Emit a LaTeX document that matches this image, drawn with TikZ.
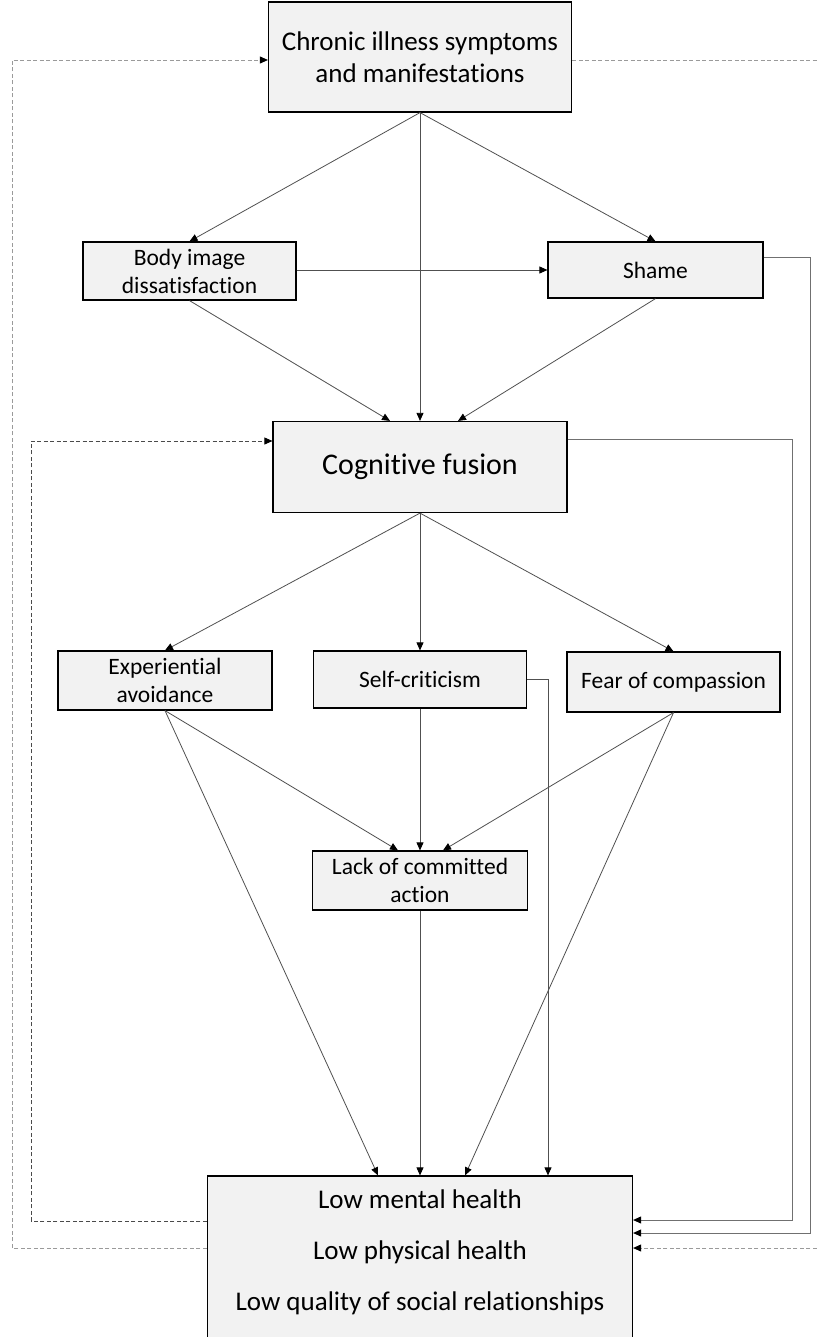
\documentclass[tikz,border=0pt]{standalone}
\usepackage{fontspec}
\setmainfont{Carlito}[Ligatures=NoCommon]
\usetikzlibrary{arrows.meta}
\definecolor{boxfill}{HTML}{F2F2F2}
\definecolor{linkgray}{HTML}{505050}
\definecolor{sidegray}{HTML}{707070}
\definecolor{loopgray}{HTML}{9A9A9A}
\definecolor{innergray}{HTML}{4A4A4A}
\begin{document}
\begin{tikzpicture}[x=1pt,y=-1pt,
  box/.style={draw=black, line width=1.2pt, fill=boxfill, inner sep=0pt, align=center},
  tip/.style={-{Triangle[length=8pt,width=7pt,color=black]}},
  link/.style={draw=linkgray, line width=0.8pt, tip},
  sidelink/.style={draw=sidegray, line width=0.9pt, tip},
  outerloop/.style={draw=loopgray, line width=0.9pt, dash pattern=on 4pt off 2.5pt, tip},
  innerloop/.style={draw=innergray, line width=0.8pt, dash pattern=on 4pt off 2.5pt, tip},
  midtext/.style={font=\fontsize{23.5}{28}\selectfont}
]
\useasboundingbox (0,0) rectangle (817,1337);

% boxes
\node[box, minimum width=303pt, minimum height=110pt, font=\fontsize{27}{32}\selectfont]
  (top) at (420,57) {Chronic illness symptoms\\and manifestations};
\node[box, midtext, minimum width=213pt, minimum height=58pt]
  (body) at (189.5,271) {Body image\\dissatisfaction};
\node[box, midtext, minimum width=215pt, minimum height=56pt]
  (shame) at (655.5,270) {Shame};
\node[box, minimum width=294pt, minimum height=91pt, font=\fontsize{30}{36}\selectfont]
  (cf) at (420,467) {Cognitive fusion};
\node[box, midtext, minimum width=214pt, minimum height=59pt]
  (ea) at (165,680.5) {Experiential\\avoidance};
\node[box, midtext, minimum width=213pt, minimum height=57pt]
  (sc) at (420,679.5) {Self-criticism};
\node[box, midtext, minimum width=213pt, minimum height=60pt]
  (foc) at (673.5,682) {Fear of compassion};
\node[box, midtext, minimum width=215pt, minimum height=59pt]
  (lca) at (420,880.5) {Lack of committed\\action};
\node[box, minimum width=425pt, minimum height=166pt]
  (bot) at (420,1259) {};
\node[font=\fontsize{27}{51}\selectfont, align=center, inner sep=0pt]
  (outcomes) at (420,1252) {Low mental health\\Low physical health\\Low quality of social relationships};

% direct paths
\draw[link] (top.south) -- (body.north);
\draw[link] (top.south) -- (cf.north);
\draw[link] (top.south) -- (shame.north);
\draw[link] (body.east |- shame.west) -- (shame.west);
\draw[link] (body.south) -- ([xshift=-30pt]cf.north);
\draw[link] (shame.south) -- ([xshift=38pt]cf.north);

\draw[link] (cf.south) -- (ea.north);
\draw[link] (cf.south) -- (sc.north);
\draw[link] (cf.south) -- (foc.north);

\draw[link] (ea.south) -- ([xshift=-22pt]lca.north);
\draw[link] (sc.south) -- (lca.north);
\draw[link] (foc.south) -- ([xshift=23pt]lca.north);

\draw[link] (ea.south) -- ([xshift=-42pt]bot.north);
\draw[link] (lca.south) -- (bot.north);
\draw[link] (foc.south) -- ([xshift=45pt]bot.north);
\draw[link] (sc.east) -| ([xshift=128pt]bot.north);

% routes along the right side
\draw[sidelink] ([yshift=13pt]shame.east) -- ++(47,0) |- ([yshift=26pt]bot.east);
\draw[sidelink] ([yshift=28pt]cf.east) -- ++(225,0) |- ([yshift=39pt]bot.east);

% feedback loops
\draw[outerloop] ([yshift=-3pt]top.east) -- (835,60) -- (835,1248) -- ([yshift=11pt]bot.east);
\draw[outerloop] ([yshift=11pt]bot.west) -- (12,1248) |- ([yshift=-3pt]top.west);
\draw[innerloop] ([yshift=38pt]bot.west) -- (31,1221) |- ([yshift=26pt]cf.west);
\end{tikzpicture}
\end{document}
